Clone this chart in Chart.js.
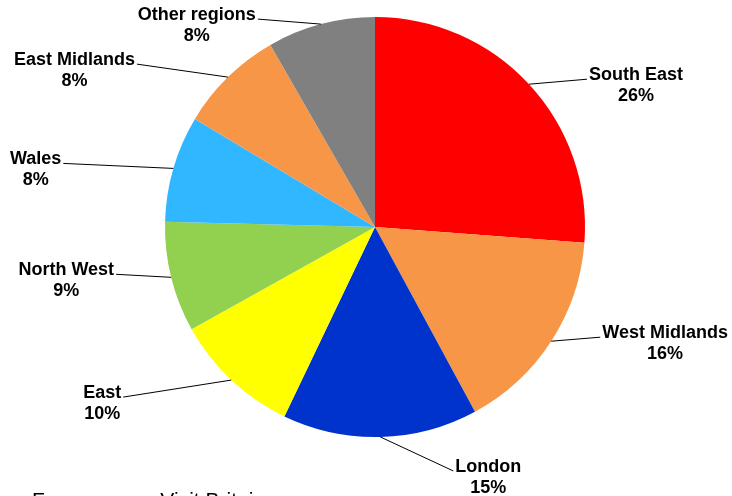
<!DOCTYPE html>
<html>
<head>
<meta charset="utf-8">
<script src="https://cdn.jsdelivr.net/npm/chart.js@4/dist/chart.umd.min.js"></script>
<style>
  html, body { margin: 0; padding: 0; background: #fff; }
  #wrap { position: relative; width: 732px; height: 496px; overflow: hidden; }
  #note { position: absolute; left: 32px; top: 488px; font: 21px "Liberation Sans", Arial, sans-serif; color: #000; white-space: nowrap; }
</style>
</head>
<body>
<div id="wrap">
  <canvas id="c" width="732" height="496"></canvas>
  <div id="note">From survey: Visit Britain</div>
</div>
<script>
// ---- data ----
const categories = ['South East', 'West Midlands', 'London', 'East', 'North West', 'Wales', 'East Midlands', 'Other regions'];
const shares = [26.2, 15.9, 15.0, 9.8, 8.5, 8.2, 8.1, 8.3];
const sliceColors = ['#FF0000', '#F79646', '#0033CC', '#FFFF00', '#92D050', '#31B7FF', '#F79646', '#808080'];

// label anchor offsets (px) from each slice's outer mid point; side: 1 = text to the right, -1 = to the left
const labelOffsets = [[58, -5], [49, -4], [73, 34], [-108, 17], [-55, -3], [-110, -5], [-91, -13], [-63, -5]];
const labelSides = [1, 1, 1, -1, -1, -1, -1, -1];

const leaderLabels = {
  id: 'leaderLabels',
  afterDatasetsDraw(chart) {
    const ctx = chart.ctx;
    const meta = chart.getDatasetMeta(0);
    ctx.save();
    ctx.font = 'bold 18px "Liberation Sans", Arial, sans-serif';
    ctx.fillStyle = '#000';
    ctx.strokeStyle = '#000';
    ctx.lineWidth = 1;
    meta.data.forEach((arc, i) => {
      const p = arc.getProps(['x', 'y', 'startAngle', 'endAngle', 'outerRadius'], true);
      const mid = (p.startAngle + p.endAngle) / 2;
      const ex = p.x + Math.cos(mid) * p.outerRadius;
      const ey = p.y + Math.sin(mid) * p.outerRadius;
      const ax = ex + labelOffsets[i][0];
      const ay = ey + labelOffsets[i][1];
      ctx.beginPath();
      ctx.moveTo(ex, ey);
      ctx.lineTo(ax, ay);
      ctx.stroke();
      const name = categories[i];
      const pct = Math.round(shares[i]) + '%';
      const w = ctx.measureText(name).width;
      const left = labelSides[i] > 0 ? ax + 2 : ax - 2 - w;
      const cx = left + w / 2;
      ctx.textBaseline = 'alphabetic';
      ctx.textAlign = 'left';
      ctx.fillText(name, left, ay + 1);
      ctx.textAlign = 'center';
      ctx.fillText(pct, cx, ay + 22);
    });
    ctx.restore();
  }
};

new Chart(document.getElementById('c'), {
  type: 'pie',
  data: {
    labels: categories,
    datasets: [{
      data: shares,
      backgroundColor: sliceColors,
      borderWidth: 0
    }]
  },
  options: {
    responsive: false,
    animation: false,
    layout: { padding: { left: 100, right: 82, top: 17, bottom: 59 } },
    plugins: { legend: { display: false }, tooltip: { enabled: false } }
  },
  plugins: [leaderLabels]
});
</script>
</body>
</html>
